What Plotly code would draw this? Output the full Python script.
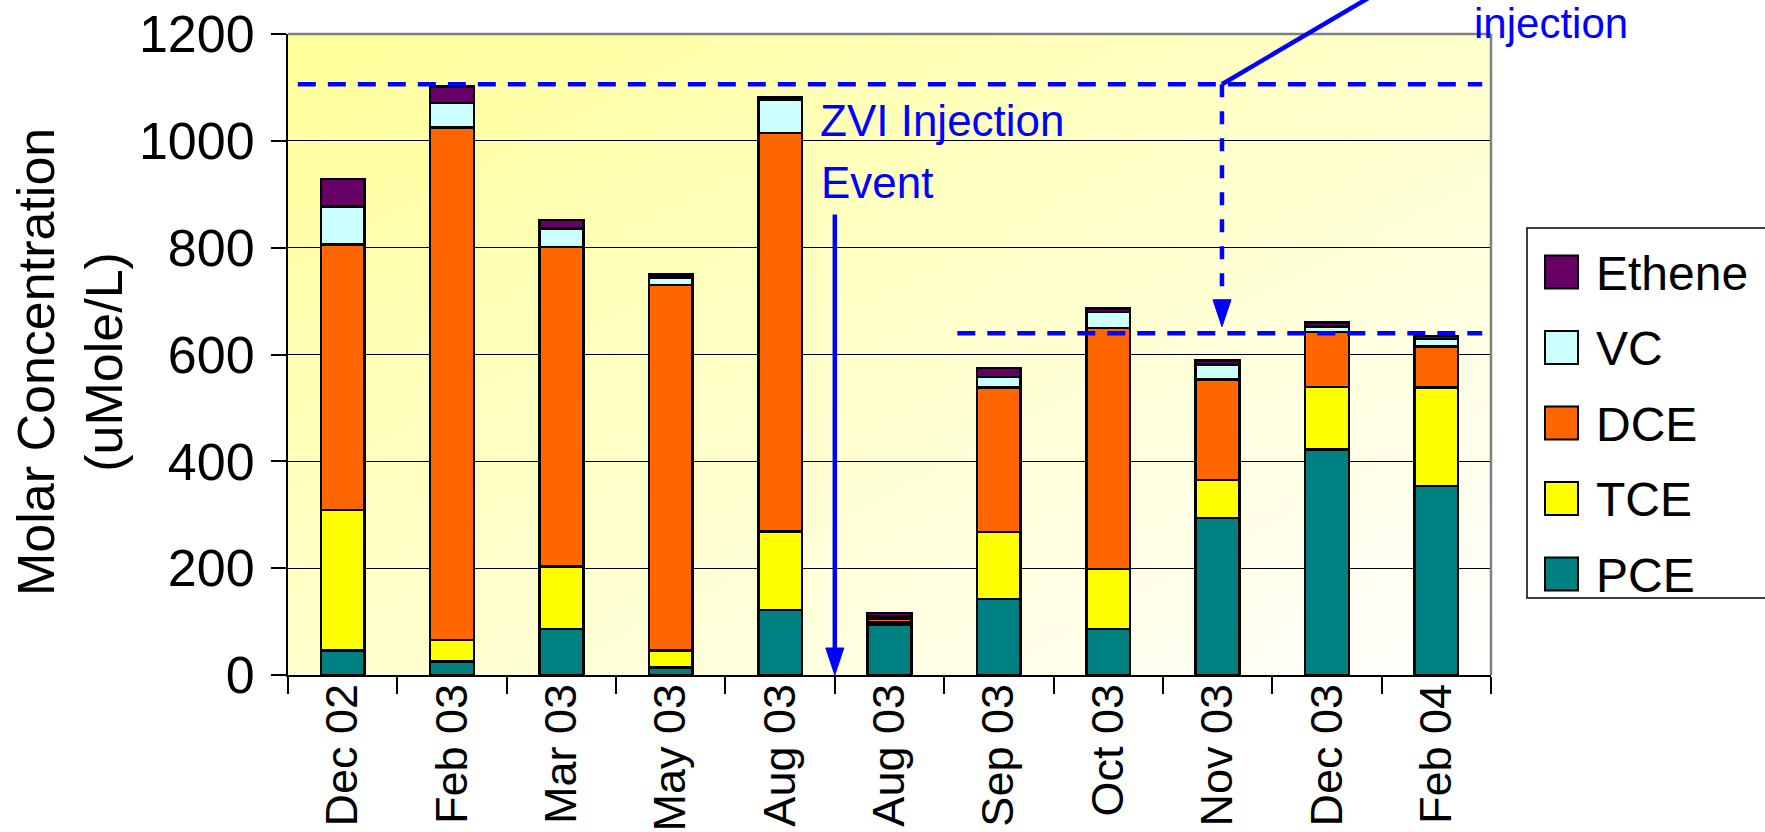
import base64
import plotly.graph_objects as go

# Sampling dates (the August 2003 round was sampled twice)
categories = ["Dec 02", "Feb 03", "Mar 03", "May 03", "Aug 03", "Aug 03",
              "Sep 03", "Oct 03", "Nov 03", "Dec 03", "Feb 04"]

# Molar concentrations, uMole/L
pce = [46, 25, 86, 14, 122, 95, 142, 86, 294, 422, 354]
tce = [263, 41, 117, 32, 147, 3, 126, 112, 71, 117, 184]
dce = [497, 959, 598, 684, 746, 8, 270, 452, 188, 103, 77]
vc = [71, 46, 35, 14, 61, 4, 20, 30, 28, 10, 14]
ethene = [52, 31, 16, 6, 5, 6, 17, 6, 8, 8, 6]

series_names = ["PCE", "TCE", "DCE", "VC", "Ethene"]
series_values = [pce, tce, dce, vc, ethene]
series_colors = ["#008080", "#FFFF00", "#FF6600", "#CCFFFF", "#660066"]

# Reference levels marked on the chart
pre_injection_level = 1106
post_injection_level = 640
zvi_event_top = 862

W, H = 1765, 832
ML, MR, MT, MB = 288, 274, 34, 157
PW, PH = W - ML - MR, H - MT - MB
FONT = "Arial, Liberation Sans, sans-serif"
BLUE = "#0000FF"

x_pos = list(range(len(categories)))
XMIN, XMAX = -0.5, len(categories) - 0.5
YMAX = 1200


def px_to_paper(px, py):
    return (px - ML) / PW, (H - MB - py) / PH


def data_to_paper(xv, yv):
    return (xv - XMIN) / (XMAX - XMIN), yv / YMAX


fig = go.Figure()
for name, vals, col in zip(series_names, series_values, series_colors):
    fig.add_trace(go.Bar(
        x=x_pos, y=vals, name=name,
        marker=dict(color=col, line=dict(color="black", width=2.5)),
        showlegend=False,
    ))

# Diagonal yellow-to-white plot background
svg = ('<svg xmlns="http://www.w3.org/2000/svg" width="200" height="200" '
       'preserveAspectRatio="none"><defs><linearGradient id="g" x1="0" y1="0" '
       'x2="1" y2="1"><stop offset="0" stop-color="#FFFF99"/>'
       '<stop offset="1" stop-color="#FFFFFF"/></linearGradient></defs>'
       '<rect width="200" height="200" fill="url(#g)"/></svg>')
bg_src = "data:image/svg+xml;base64," + base64.b64encode(svg.encode()).decode()

shapes = []
annotations = []

# plot-area frame (top and right edges)
shapes.append(dict(type="line", xref="paper", yref="paper", x0=0, x1=1, y0=1, y1=1,
                   line=dict(color="#808080", width=2.5)))
shapes.append(dict(type="line", xref="paper", yref="paper", x0=1, x1=1, y0=0, y1=1,
                   line=dict(color="#808080", width=2.5)))

dash_line = dict(color=BLUE, width=4.5, dash="18px,12px")

# dashed level lines
shapes.append(dict(type="line", xref="x", yref="y", x0=-0.41, x1=10.42,
                   y0=pre_injection_level, y1=pre_injection_level, line=dash_line))
shapes.append(dict(type="line", xref="x", yref="y", x0=5.62, x1=10.42,
                   y0=post_injection_level, y1=post_injection_level, line=dash_line))

# dashed drop arrow from the upper level to the lower level
drop_x = 8.04
shapes.append(dict(type="line", xref="x", yref="y", x0=drop_x, x1=drop_x,
                   y0=pre_injection_level, y1=post_injection_level + 50,
                   line=dict(color=BLUE, width=4.5, dash="13px,14px")))
head_path = "M-9,27 L9,27 L0,0 Z"
shapes.append(dict(type="path", xref="x", yref="y", xsizemode="pixel", ysizemode="pixel",
                   xanchor=drop_x, yanchor=post_injection_level + 12, path=head_path,
                   fillcolor=BLUE, line=dict(color=BLUE, width=1)))

# leader line running up to the second injection label
sx, sy = data_to_paper(drop_x, pre_injection_level)
ex, ey = px_to_paper(1222 + 211, -40)
shapes.append(dict(type="line", xref="paper", yref="paper", x0=sx, y0=sy, x1=ex, y1=ey,
                   line=dict(color=BLUE, width=4.5)))

# ZVI injection event arrow
event_x = 4.5
shapes.append(dict(type="line", xref="x", yref="y", x0=event_x, x1=event_x,
                   y0=zvi_event_top, y1=30, line=dict(color=BLUE, width=4.5)))
shapes.append(dict(type="path", xref="x", yref="y", xsizemode="pixel", ysizemode="pixel",
                   xanchor=event_x, yanchor=0, path=head_path,
                   fillcolor=BLUE, line=dict(color=BLUE, width=1)))

def text_at(px, py, text, size, color="black", anchor="left", angle=0):
    ax_, ay_ = px_to_paper(px, py)
    annotations.append(dict(xref="paper", yref="paper", x=ax_, y=ay_, text=text,
                            showarrow=False, xanchor=anchor, yanchor="middle",
                            textangle=angle,
                            font=dict(family=FONT, size=size, color=color)))

text_at(818, 121, "ZVI Injection", 44, BLUE)
text_at(819, 182, "Event", 44, BLUE)
text_at(1472, 24, "injection", 42, BLUE)

# y-axis title
text_at(70, 362, "Molar Concentration<br>(uMole/L)", 52, anchor="center", angle=-90)

# legend box, listed top to bottom in reverse stacking order
lx0, ly0 = px_to_paper(1527, 228)
lx1, ly1 = px_to_paper(1790, 598)
shapes.append(dict(type="rect", xref="paper", yref="paper", x0=lx0, y0=ly0, x1=lx1, y1=ly1,
                   fillcolor="white", line=dict(color="black", width=1.5)))
for i, (name, col) in enumerate(reversed(list(zip(series_names, series_colors)))):
    cy = 272 + i * 75.5
    qx0, qy0 = px_to_paper(1545, cy - 16.5)
    qx1, qy1 = px_to_paper(1578, cy + 16.5)
    shapes.append(dict(type="rect", xref="paper", yref="paper", x0=qx0, y0=qy0, x1=qx1, y1=qy1,
                       fillcolor=col, line=dict(color="black", width=2)))
    text_at(1594, cy + 1, name, 48)

fig.update_layout(
    width=W, height=H,
    margin=dict(l=ML, r=MR, t=MT, b=MB, pad=0, autoexpand=False),
    barmode="stack", bargap=0.6,
    paper_bgcolor="white", plot_bgcolor="rgba(0,0,0,0)",
    showlegend=False,
    font=dict(family=FONT, color="black"),
    shapes=shapes, annotations=annotations,
    images=[dict(source=bg_src, xref="paper", yref="paper", x=0, y=1, sizex=1, sizey=1,
                 xanchor="left", yanchor="top", sizing="stretch", layer="below")],
)

fig.update_xaxes(
    range=[XMIN, XMAX], tickmode="array", tickvals=x_pos, ticktext=categories,
    tickangle=-90, tickfont=dict(size=45), ticks="", ticklen=0, ticklabelstandoff=-11,
    showline=True, linecolor="black", linewidth=2, showgrid=False, zeroline=False,
    automargin=False,
    minor=dict(tickmode="array", tickvals=[v - 0.5 for v in range(len(categories) + 1)],
               ticks="outside", ticklen=17, tickwidth=1.5, tickcolor="black", showgrid=False),
)
fig.update_yaxes(
    range=[0, YMAX], dtick=200, tickfont=dict(size=52),
    ticks="outside", ticklen=15, tickwidth=1.5, tickcolor="black", ticklabelstandoff=6,
    showline=True, linecolor="black", linewidth=2, automargin=False,
    showgrid=True, gridcolor="black", gridwidth=1, zeroline=False,
)

fig.write_html("out.html")
